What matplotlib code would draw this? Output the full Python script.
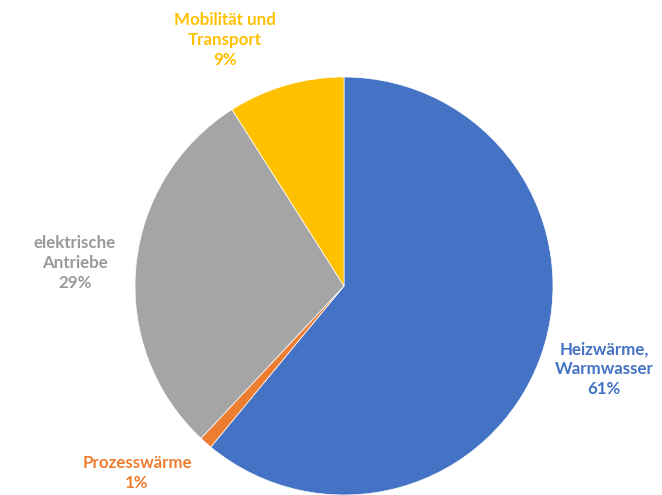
import matplotlib
matplotlib.use("Agg")
import matplotlib.pyplot as plt

categories = ["Heizwärme,\nWarmwasser", "Prozesswärme", "elektrische\nAntriebe", "Mobilität und\nTransport"]
values = [61, 1, 29, 9]
colors = ["#4472C4", "#ED7D31", "#A5A5A5", "#FFC000"]
label_colors = ["#4472C4", "#ED7D31", "#999999", "#FFC000"]

W, H = 662, 495
fig = plt.figure(figsize=(W / 100, H / 100), dpi=100)
cx, cy, r = 344, 286, 209
ax = fig.add_axes([(cx - r) / W, (H - cy - r) / H, 2 * r / W, 2 * r / H])
ax.pie(values, colors=colors, startangle=90, counterclock=False, radius=1,
       wedgeprops=dict(edgecolor="white", linewidth=0.5))
ax.set_xlim(-1, 1)
ax.set_ylim(-1, 1)
ax.set_aspect("equal")
ax.axis("off")

label_pos = [(604, 369), (137, 473), (75, 263), (225, 40)]
for cat, v, col, (px, py) in zip(categories, values, label_colors, label_pos):
    fig.text(px / W, 1 - py / H, f"{cat}\n{v}%", ha="center", va="center",
             color=col, fontsize=12.2, fontweight="bold", family=["Lato", "DejaVu Sans"],
             linespacing=1.3)

fig.savefig("out.png", dpi=100)
